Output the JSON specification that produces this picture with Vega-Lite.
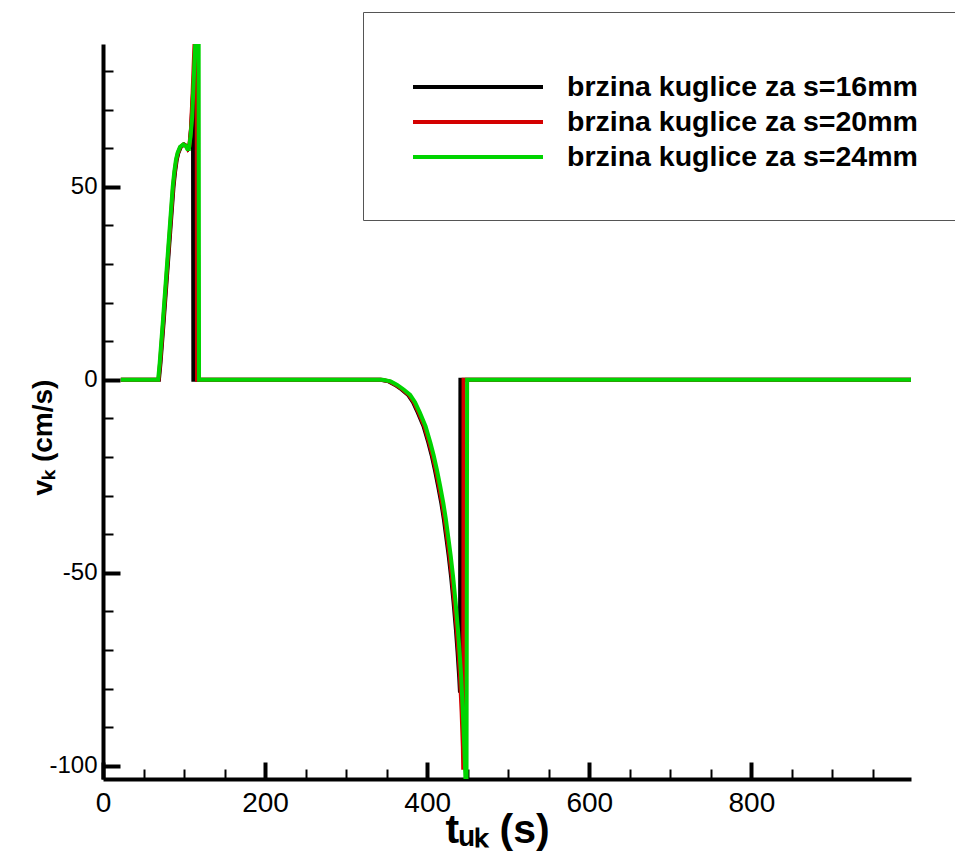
{
  "$schema": "https://vega.github.io/schema/vega-lite/v6.json",
  "width": 808,
  "height": 735,
  "autosize": "none",
  "padding": {"left": 103, "top": 44, "right": 44, "bottom": 74},
  "background": "white",
  "config": {"view": {"stroke": null}},
  "data": {
    "values": [
      {"serija": "brzina kuglice za s=16mm", "t": 22, "v": 0},
      {"serija": "brzina kuglice za s=16mm", "t": 69, "v": 0},
      {"serija": "brzina kuglice za s=16mm", "t": 71, "v": 4.5},
      {"serija": "brzina kuglice za s=16mm", "t": 75, "v": 15.5},
      {"serija": "brzina kuglice za s=16mm", "t": 79, "v": 27},
      {"serija": "brzina kuglice za s=16mm", "t": 83, "v": 38.5},
      {"serija": "brzina kuglice za s=16mm", "t": 87, "v": 50},
      {"serija": "brzina kuglice za s=16mm", "t": 89, "v": 54},
      {"serija": "brzina kuglice za s=16mm", "t": 91, "v": 57},
      {"serija": "brzina kuglice za s=16mm", "t": 93, "v": 58.8},
      {"serija": "brzina kuglice za s=16mm", "t": 96, "v": 60.3},
      {"serija": "brzina kuglice za s=16mm", "t": 100, "v": 61},
      {"serija": "brzina kuglice za s=16mm", "t": 103, "v": 60.6},
      {"serija": "brzina kuglice za s=16mm", "t": 105, "v": 60},
      {"serija": "brzina kuglice za s=16mm", "t": 107, "v": 61},
      {"serija": "brzina kuglice za s=16mm", "t": 109, "v": 66},
      {"serija": "brzina kuglice za s=16mm", "t": 111, "v": 74},
      {"serija": "brzina kuglice za s=16mm", "t": 111.5, "v": 0},
      {"serija": "brzina kuglice za s=16mm", "t": 342.5, "v": 0},
      {"serija": "brzina kuglice za s=16mm", "t": 352.5, "v": -0.4},
      {"serija": "brzina kuglice za s=16mm", "t": 360.5, "v": -1.3},
      {"serija": "brzina kuglice za s=16mm", "t": 368.5, "v": -2.5},
      {"serija": "brzina kuglice za s=16mm", "t": 376.5, "v": -3.9},
      {"serija": "brzina kuglice za s=16mm", "t": 382.5, "v": -5.8},
      {"serija": "brzina kuglice za s=16mm", "t": 388.5, "v": -8.5},
      {"serija": "brzina kuglice za s=16mm", "t": 395.5, "v": -12},
      {"serija": "brzina kuglice za s=16mm", "t": 401.5, "v": -16.3},
      {"serija": "brzina kuglice za s=16mm", "t": 405.5, "v": -19.5},
      {"serija": "brzina kuglice za s=16mm", "t": 409.5, "v": -23.3},
      {"serija": "brzina kuglice za s=16mm", "t": 413.5, "v": -27.5},
      {"serija": "brzina kuglice za s=16mm", "t": 417.5, "v": -32},
      {"serija": "brzina kuglice za s=16mm", "t": 420.5, "v": -36},
      {"serija": "brzina kuglice za s=16mm", "t": 423.5, "v": -40.7},
      {"serija": "brzina kuglice za s=16mm", "t": 426.5, "v": -45.5},
      {"serija": "brzina kuglice za s=16mm", "t": 429.5, "v": -51},
      {"serija": "brzina kuglice za s=16mm", "t": 432.5, "v": -57.5},
      {"serija": "brzina kuglice za s=16mm", "t": 435.5, "v": -64.8},
      {"serija": "brzina kuglice za s=16mm", "t": 437.5, "v": -70.5},
      {"serija": "brzina kuglice za s=16mm", "t": 439.5, "v": -77},
      {"serija": "brzina kuglice za s=16mm", "t": 440.5, "v": -81},
      {"serija": "brzina kuglice za s=16mm", "t": 441, "v": 0},
      {"serija": "brzina kuglice za s=16mm", "t": 997, "v": 0},

      {"serija": "brzina kuglice za s=20mm", "t": 22, "v": 0},
      {"serija": "brzina kuglice za s=20mm", "t": 68.5, "v": 0},
      {"serija": "brzina kuglice za s=20mm", "t": 70.5, "v": 4.5},
      {"serija": "brzina kuglice za s=20mm", "t": 74.5, "v": 15.5},
      {"serija": "brzina kuglice za s=20mm", "t": 78.5, "v": 27},
      {"serija": "brzina kuglice za s=20mm", "t": 82.5, "v": 38.5},
      {"serija": "brzina kuglice za s=20mm", "t": 86.5, "v": 50},
      {"serija": "brzina kuglice za s=20mm", "t": 88.5, "v": 54},
      {"serija": "brzina kuglice za s=20mm", "t": 90.5, "v": 57},
      {"serija": "brzina kuglice za s=20mm", "t": 92.5, "v": 58.8},
      {"serija": "brzina kuglice za s=20mm", "t": 95.5, "v": 60.3},
      {"serija": "brzina kuglice za s=20mm", "t": 99.5, "v": 61},
      {"serija": "brzina kuglice za s=20mm", "t": 102.5, "v": 60.6},
      {"serija": "brzina kuglice za s=20mm", "t": 104.5, "v": 59.8},
      {"serija": "brzina kuglice za s=20mm", "t": 106.5, "v": 60.5},
      {"serija": "brzina kuglice za s=20mm", "t": 108.5, "v": 65},
      {"serija": "brzina kuglice za s=20mm", "t": 110.5, "v": 74},
      {"serija": "brzina kuglice za s=20mm", "t": 112.5, "v": 85},
      {"serija": "brzina kuglice za s=20mm", "t": 114, "v": 92},
      {"serija": "brzina kuglice za s=20mm", "t": 115.5, "v": 93},
      {"serija": "brzina kuglice za s=20mm", "t": 116, "v": 0},
      {"serija": "brzina kuglice za s=20mm", "t": 343.5, "v": 0},
      {"serija": "brzina kuglice za s=20mm", "t": 353.5, "v": -0.4},
      {"serija": "brzina kuglice za s=20mm", "t": 361.5, "v": -1.3},
      {"serija": "brzina kuglice za s=20mm", "t": 369.5, "v": -2.5},
      {"serija": "brzina kuglice za s=20mm", "t": 377.5, "v": -3.9},
      {"serija": "brzina kuglice za s=20mm", "t": 383.5, "v": -5.8},
      {"serija": "brzina kuglice za s=20mm", "t": 389.5, "v": -8.5},
      {"serija": "brzina kuglice za s=20mm", "t": 396.5, "v": -12},
      {"serija": "brzina kuglice za s=20mm", "t": 402.5, "v": -16.3},
      {"serija": "brzina kuglice za s=20mm", "t": 406.5, "v": -19.5},
      {"serija": "brzina kuglice za s=20mm", "t": 410.5, "v": -23.3},
      {"serija": "brzina kuglice za s=20mm", "t": 414.5, "v": -27.5},
      {"serija": "brzina kuglice za s=20mm", "t": 418.5, "v": -32},
      {"serija": "brzina kuglice za s=20mm", "t": 421.5, "v": -36},
      {"serija": "brzina kuglice za s=20mm", "t": 424.5, "v": -40.7},
      {"serija": "brzina kuglice za s=20mm", "t": 427.5, "v": -45.5},
      {"serija": "brzina kuglice za s=20mm", "t": 430.5, "v": -51},
      {"serija": "brzina kuglice za s=20mm", "t": 433.5, "v": -57.5},
      {"serija": "brzina kuglice za s=20mm", "t": 436.5, "v": -64.8},
      {"serija": "brzina kuglice za s=20mm", "t": 438.5, "v": -70.5},
      {"serija": "brzina kuglice za s=20mm", "t": 440.5, "v": -77},
      {"serija": "brzina kuglice za s=20mm", "t": 442.5, "v": -86},
      {"serija": "brzina kuglice za s=20mm", "t": 444, "v": -95},
      {"serija": "brzina kuglice za s=20mm", "t": 444.5, "v": -101},
      {"serija": "brzina kuglice za s=20mm", "t": 444.9, "v": 0},
      {"serija": "brzina kuglice za s=20mm", "t": 997, "v": 0},

      {"serija": "brzina kuglice za s=24mm", "t": 22, "v": 0},
      {"serija": "brzina kuglice za s=24mm", "t": 68, "v": 0},
      {"serija": "brzina kuglice za s=24mm", "t": 70, "v": 4.5},
      {"serija": "brzina kuglice za s=24mm", "t": 74, "v": 15.5},
      {"serija": "brzina kuglice za s=24mm", "t": 78, "v": 27},
      {"serija": "brzina kuglice za s=24mm", "t": 82, "v": 38.5},
      {"serija": "brzina kuglice za s=24mm", "t": 86, "v": 50},
      {"serija": "brzina kuglice za s=24mm", "t": 88, "v": 54},
      {"serija": "brzina kuglice za s=24mm", "t": 90, "v": 57},
      {"serija": "brzina kuglice za s=24mm", "t": 92, "v": 58.8},
      {"serija": "brzina kuglice za s=24mm", "t": 95, "v": 60.3},
      {"serija": "brzina kuglice za s=24mm", "t": 99, "v": 61},
      {"serija": "brzina kuglice za s=24mm", "t": 102, "v": 60.6},
      {"serija": "brzina kuglice za s=24mm", "t": 104, "v": 59.8},
      {"serija": "brzina kuglice za s=24mm", "t": 106, "v": 59.8},
      {"serija": "brzina kuglice za s=24mm", "t": 108, "v": 63},
      {"serija": "brzina kuglice za s=24mm", "t": 110, "v": 68},
      {"serija": "brzina kuglice za s=24mm", "t": 112, "v": 78},
      {"serija": "brzina kuglice za s=24mm", "t": 114, "v": 88},
      {"serija": "brzina kuglice za s=24mm", "t": 116, "v": 94},
      {"serija": "brzina kuglice za s=24mm", "t": 118, "v": 96},
      {"serija": "brzina kuglice za s=24mm", "t": 118.5, "v": 0},
      {"serija": "brzina kuglice za s=24mm", "t": 345, "v": 0},
      {"serija": "brzina kuglice za s=24mm", "t": 355, "v": -0.4},
      {"serija": "brzina kuglice za s=24mm", "t": 363, "v": -1.3},
      {"serija": "brzina kuglice za s=24mm", "t": 371, "v": -2.5},
      {"serija": "brzina kuglice za s=24mm", "t": 379, "v": -3.9},
      {"serija": "brzina kuglice za s=24mm", "t": 385, "v": -5.8},
      {"serija": "brzina kuglice za s=24mm", "t": 391, "v": -8.5},
      {"serija": "brzina kuglice za s=24mm", "t": 398, "v": -12},
      {"serija": "brzina kuglice za s=24mm", "t": 404, "v": -16.3},
      {"serija": "brzina kuglice za s=24mm", "t": 408, "v": -19.5},
      {"serija": "brzina kuglice za s=24mm", "t": 412, "v": -23.3},
      {"serija": "brzina kuglice za s=24mm", "t": 416, "v": -27.5},
      {"serija": "brzina kuglice za s=24mm", "t": 420, "v": -32},
      {"serija": "brzina kuglice za s=24mm", "t": 423, "v": -36},
      {"serija": "brzina kuglice za s=24mm", "t": 426, "v": -40.7},
      {"serija": "brzina kuglice za s=24mm", "t": 429, "v": -45.5},
      {"serija": "brzina kuglice za s=24mm", "t": 432, "v": -51},
      {"serija": "brzina kuglice za s=24mm", "t": 435, "v": -57.5},
      {"serija": "brzina kuglice za s=24mm", "t": 438, "v": -64.8},
      {"serija": "brzina kuglice za s=24mm", "t": 440, "v": -70.5},
      {"serija": "brzina kuglice za s=24mm", "t": 442, "v": -77},
      {"serija": "brzina kuglice za s=24mm", "t": 444, "v": -86},
      {"serija": "brzina kuglice za s=24mm", "t": 446, "v": -96},
      {"serija": "brzina kuglice za s=24mm", "t": 447.5, "v": -105},
      {"serija": "brzina kuglice za s=24mm", "t": 448.5, "v": -110},
      {"serija": "brzina kuglice za s=24mm", "t": 449.3, "v": 0},
      {"serija": "brzina kuglice za s=24mm", "t": 997, "v": 0}
    ]
  },
  "mark": {"type": "line", "clip": true, "strokeWidth": 4},
  "encoding": {
    "x": {
      "field": "t",
      "type": "quantitative",
      "scale": {"domain": [0, 997], "nice": false, "zero": false},
      "axis": {
        "title": "tᵤₖ (s)",
        "values": [0, 50, 100, 150, 200, 250, 300, 350, 400, 450, 500, 550, 600, 650, 700, 750, 800, 850, 900, 950],
        "labelExpr": "datum.value % 200 === 0 ? datum.label : ''",
        "tickSize": {"condition": {"test": "datum.value % 200 === 0", "value": -17}, "value": -10},
        "tickWidth": {"condition": {"test": "datum.value % 200 === 0", "value": 4}, "value": 2},
        "tickColor": "black",
        "domainColor": "black",
        "domainWidth": 4,
        "grid": false,
        "labelFlush": false,
        "labelOverlap": false,
        "labelFont": "Liberation Sans",
        "labelFontSize": 28,
        "labelColor": "black",
        "labelPadding": 27,
        "titleFont": "Liberation Sans",
        "titleFontSize": 41,
        "titleFontWeight": "bold",
        "titleColor": "black",
        "titleBaseline": "alphabetic",
        "titleX": 394,
        "titleY": 63
      }
    },
    "y": {
      "field": "v",
      "type": "quantitative",
      "scale": {"domain": [-103.4, 87], "nice": false, "zero": false},
      "axis": {
        "title": "vₖ (cm/s)",
        "values": [-100, -90, -80, -70, -60, -50, -40, -30, -20, -10, 0, 10, 20, 30, 40, 50, 60, 70, 80],
        "labelExpr": "datum.value % 50 === 0 ? '' + datum.value : ''",
        "tickSize": {"condition": {"test": "datum.value % 50 === 0", "value": -17}, "value": -10},
        "tickWidth": {"condition": {"test": "datum.value % 50 === 0", "value": 4}, "value": 2},
        "tickColor": "black",
        "domainColor": "black",
        "domainWidth": 4,
        "grid": false,
        "labelFlush": false,
        "labelOverlap": false,
        "labelFont": "Liberation Sans",
        "labelFontSize": 24,
        "labelColor": "black",
        "labelPadding": 23,
        "titleFont": "Liberation Sans",
        "titleFontSize": 28,
        "titleFontWeight": "bold",
        "titleColor": "black",
        "titleAngle": 270,
        "titleAlign": "center",
        "titleBaseline": "alphabetic",
        "titleX": -52,
        "titleY": 393
      }
    },
    "color": {
      "field": "serija",
      "type": "nominal",
      "scale": {
        "domain": ["brzina kuglice za s=16mm", "brzina kuglice za s=20mm", "brzina kuglice za s=24mm"],
        "range": ["#000000", "#d40000", "#00d400"]
      },
      "legend": {
        "title": " ",
        "titleFontSize": 8,
        "titlePadding": 4.5,
        "orient": "none",
        "legendX": 260,
        "legendY": -32,
        "padding": 48,
        "strokeColor": "#555555",
        "fillColor": "white",
        "symbolType": "M-1,0H9.4",
        "symbolSize": 625,
        "symbolStrokeWidth": 4,
        "labelOffset": 127,
        "labelFont": "Liberation Sans",
        "labelFontSize": 28.5,
        "labelFontWeight": "bold",
        "labelColor": "black",
        "labelLimit": 600,
        "rowPadding": 6
      }
    }
  }
}
